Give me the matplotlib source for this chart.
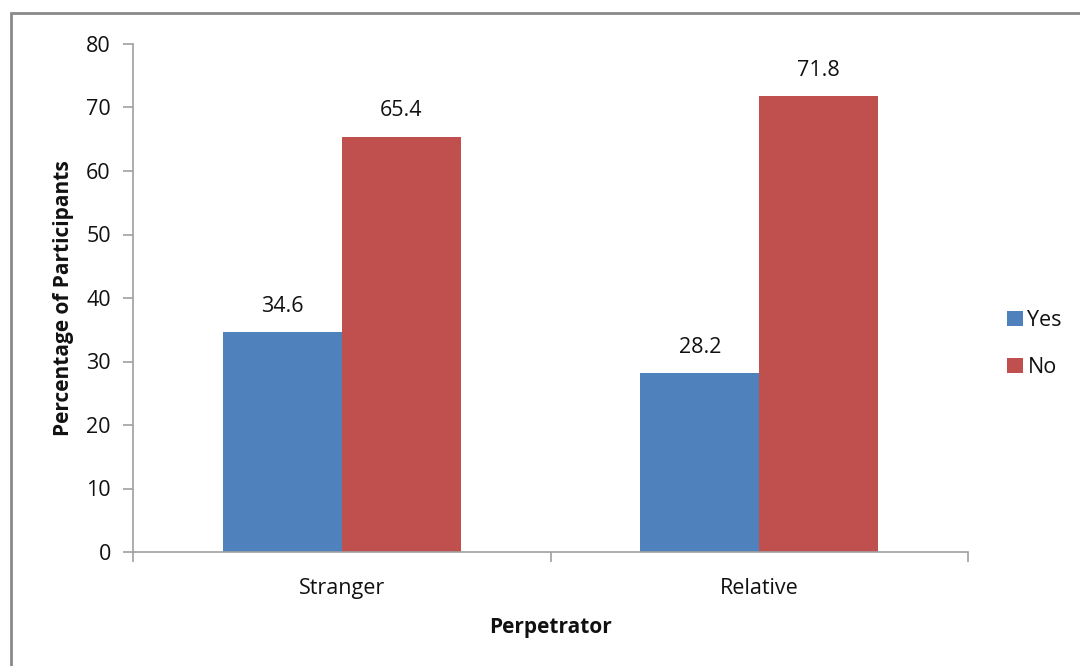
import matplotlib.pyplot as plt
import matplotlib.patches as mpatches
import numpy as np

categories = ['Stranger', 'Relative']
series_names = ['Yes', 'No']
yes_values = [34.6, 28.2]
no_values = [65.4, 71.8]
colors = ['#4F81BD', '#C0504D']

plt.rcParams['font.family'] = ['Open Sans', 'DejaVu Sans']

fig = plt.figure(figsize=(10.8, 6.66), dpi=100)
ax = fig.add_axes([133/1080, 1 - 552/666, (968 - 133)/1080, (552 - 44)/666])

x = np.arange(len(categories))
w = 0.285
bars_yes = ax.bar(x - w/2, yes_values, w, color=colors[0], label=series_names[0])
bars_no = ax.bar(x + w/2, no_values, w, color=colors[1], label=series_names[1])

# value labels above bars
for bars in (bars_yes, bars_no):
    for b in bars:
        ax.annotate('{:.1f}'.format(b.get_height()),
                    (b.get_x() + b.get_width()/2, b.get_height()),
                    xytext=(0, 11), textcoords='offset points',
                    ha='center', va='bottom', fontsize=15.5, color='#111111')

ax.set_xlim(-0.5, len(categories) - 0.5)
ax.set_ylim(0, 80)
ax.set_yticks(range(0, 81, 10))
ax.set_xticks(np.arange(-0.5, len(categories), 1.0))
ax.set_xticklabels([])
ax.set_xticks(x, minor=True)
ax.set_xticklabels(categories, minor=True)

ax.spines['top'].set_visible(False)
ax.spines['right'].set_visible(False)
for s in ('left', 'bottom'):
    ax.spines[s].set_color('#a0a0a0')
    ax.spines[s].set_linewidth(1.2)

ax.tick_params(axis='y', which='major', direction='out', length=7, width=1.2,
               color='#a0a0a0', labelsize=15.5, labelcolor='#111111', pad=9)
ax.tick_params(axis='x', which='major', direction='out', length=7, width=1.2,
               color='#a0a0a0')
ax.tick_params(axis='x', which='minor', length=0, labelsize=15.5,
               labelcolor='#111111', pad=19)

ax.set_ylabel('Percentage of Participants', fontsize=15, fontweight='bold',
              color='#111111', labelpad=9)
ax.set_xlabel('Perpetrator', fontsize=15, fontweight='bold', color='#111111',
              labelpad=13)

leg = ax.legend(loc='center left', bbox_to_anchor=(1007/1080, 1 - 344/666),
                bbox_transform=fig.transFigure, frameon=False, fontsize=15.5,
                handlelength=0.75, handleheight=0.75, handletextpad=0.2,
                labelspacing=1.2, borderaxespad=0, borderpad=0)
for t in leg.get_texts():
    t.set_color('#111111')

# outer border of the chart area
border = mpatches.Rectangle((11/1080, -0.1), 1.2, 1.1 - 13/666,
                            transform=fig.transFigure, fill=False,
                            edgecolor='#8a8a8a', linewidth=2.0)
fig.patches.append(border)

fig.savefig('out.png', dpi=100)
